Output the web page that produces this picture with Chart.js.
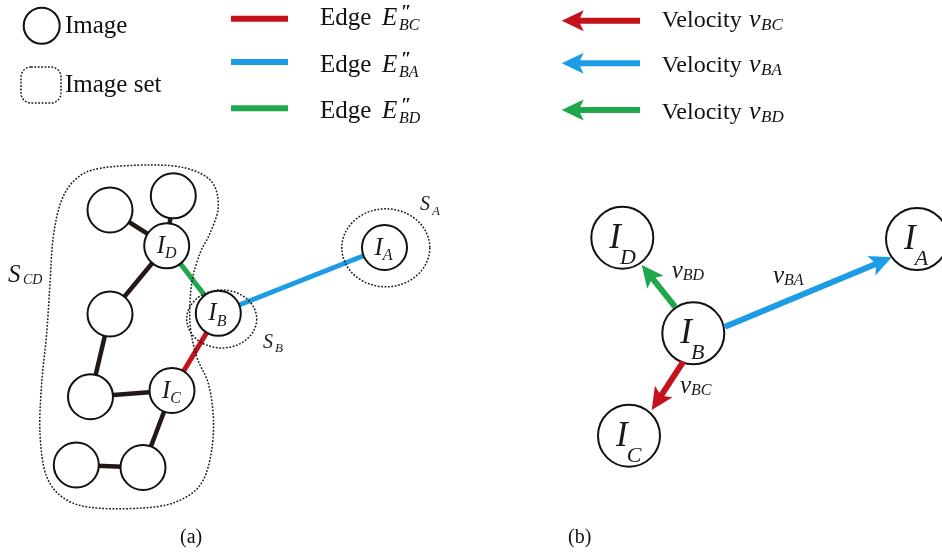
<!DOCTYPE html>
<html><head><meta charset="utf-8">
<script src="https://cdn.jsdelivr.net/npm/chart.js@4.4.1/dist/chart.umd.min.js"></script>
<style>html,body{margin:0;padding:0;background:#fff}canvas{display:block}</style>
</head><body>
<canvas id="c" width="942" height="560"></canvas>
<script>
// ---- Panel (a): image graph ----
const nodeAX = [384.5, 218.3, 172.0, 166.7, 173.3, 110.0, 110.0, 90.5, 143.0, 76.3];
const nodeAY = [247.5, 313.3, 390.5, 245.8, 195.8, 210.0, 314.0, 396.7, 467.5, 465.0];
const nodeALabel = ['A', 'B', 'C', 'D', '', '', '', '', '', ''];
// plain edges between images (node index pairs)
const plainEdges = [[5, 3], [4, 3], [3, 6], [6, 7], [7, 2], [2, 8], [8, 9]];
// highlighted edges E''_BC, E''_BA, E''_BD
const keyEdges = [[1, 2], [1, 0], [1, 3]];
const keyNames = ['BC', 'BA', 'BD'];

// image set S_CD outline
const setCDX = [100, 150, 186.7, 211.7, 218.3, 210, 200, 191.7, 190, 196.7, 208.3, 213.3, 211.7, 203.3, 186.7, 156.7, 100, 66.7, 46.7, 40, 41.7, 46.7, 50, 53.3, 61.7, 76.7];
const setCDY = [168.3, 165, 168.3, 181.7, 206.7, 233.3, 253.3, 283.3, 323.3, 356.7, 383.3, 416.7, 450, 480, 496.7, 506.7, 508.3, 500, 476.7, 433.3, 383.3, 333.3, 283.3, 236.7, 200, 178.3];
// elliptical image sets S_B and S_A: [cx, cy, rx, ry]
const setB = [221.7, 319, 35, 29];
const setA = [385.8, 247.8, 44, 39];

// ---- Panel (b): velocities ----
const nodeBX = [917.0, 693.3, 629.0, 622.3];
const nodeBY = [239.0, 333.3, 435.7, 237.7];
const nodeBLabel = ['A', 'B', 'C', 'D'];
// velocity arrows v_BC, v_BA, v_BD (start on I_B, tip near target)
const velStartX = [683.3, 725.0, 675.0];
const velStartY = [361.7, 326.7, 306.7];
const velTipX = [651.7, 891.7, 641.7];
const velTipY = [410.0, 257.3, 265.0];
const velLabelX = [680.0, 773.0, 671.7];
const velLabelY = [393.3, 283.3, 278.3];

const RED = '#C4121B', BLUE = '#1C9CE5', GREEN = '#1FA74B', INK = '#231815';
const keyColors = [RED, BLUE, GREEN];
const SERIF = '"Liberation Serif", "Times New Roman", serif';

const pt = (xs, ys, i) => ({x: xs[i], y: ys[i]});

const datasets = [];
plainEdges.forEach(([a, b]) => datasets.push({
  data: [pt(nodeAX, nodeAY, a), pt(nodeAX, nodeAY, b)],
  showLine: true, borderColor: INK, borderWidth: 4.5, pointRadius: 0, order: 2
}));
keyEdges.forEach(([a, b], k) => datasets.push({
  data: [pt(nodeAX, nodeAY, a), pt(nodeAX, nodeAY, b)],
  showLine: true, borderColor: keyColors[k], borderWidth: 5, pointRadius: 0, order: 1
}));
datasets.push({
  data: nodeAX.map((x, i) => pt(nodeAX, nodeAY, i)),
  showLine: false, pointRadius: 22.5, pointStyle: 'circle',
  pointBackgroundColor: '#fff', pointBorderColor: '#111', pointBorderWidth: 2, order: 0
});
datasets.push({
  data: nodeBX.map((x, i) => pt(nodeBX, nodeBY, i)),
  showLine: false, pointRadius: 31, pointStyle: 'circle',
  pointBackgroundColor: '#fff', pointBorderColor: '#111', pointBorderWidth: 2, order: 0
});

function write(ctx, s, x, y, size, italic) {
  ctx.font = (italic ? 'italic ' : '') + size + 'px ' + SERIF;
  ctx.fillText(s, x, y);
  return ctx.measureText(s).width;
}

function arrow(ctx, x0, y0, x1, y1, color) {
  const len = Math.hypot(x1 - x0, y1 - y0);
  const ux = (x1 - x0) / len, uy = (y1 - y0) / len;
  const nx = -uy, ny = ux;
  const headLen = 22, half = 10.5, notch = 5;
  const bx = x1 - ux * headLen, by = y1 - uy * headLen;
  const mx = x1 - ux * (headLen - notch), my = y1 - uy * (headLen - notch);
  ctx.save();
  ctx.strokeStyle = color; ctx.fillStyle = color;
  ctx.lineWidth = 6; ctx.lineCap = 'butt';
  ctx.beginPath(); ctx.moveTo(x0, y0); ctx.lineTo(mx + ux, my + uy); ctx.stroke();
  ctx.beginPath();
  ctx.moveTo(x1, y1);
  ctx.lineTo(bx + nx * half, by + ny * half);
  ctx.lineTo(mx, my);
  ctx.lineTo(bx - nx * half, by - ny * half);
  ctx.closePath(); ctx.fill();
  ctx.restore();
}

function closedCurve(ctx, P) {
  const n = P.length;
  ctx.beginPath();
  ctx.moveTo(P[0][0], P[0][1]);
  for (let i = 0; i < n; i++) {
    const p0 = P[(i - 1 + n) % n], p1 = P[i], p2 = P[(i + 1) % n], p3 = P[(i + 2) % n];
    ctx.bezierCurveTo(p1[0] + (p2[0] - p0[0]) / 6, p1[1] + (p2[1] - p0[1]) / 6,
                      p2[0] - (p3[0] - p1[0]) / 6, p2[1] - (p3[1] - p1[1]) / 6,
                      p2[0], p2[1]);
  }
  ctx.closePath();
  ctx.stroke();
}

const diagram = {
  id: 'diagram',
  afterDatasetsDraw(chart) {
    const ctx = chart.ctx;
    const X = v => chart.scales.x.getPixelForValue(v);
    const Y = v => chart.scales.y.getPixelForValue(v);
    ctx.save();

    // dotted image-set outlines
    ctx.strokeStyle = '#1a1a1a'; ctx.lineWidth = 1.5; ctx.setLineDash([1.8, 1.6]);
    closedCurve(ctx, setCDX.map((x, i) => [X(x), Y(setCDY[i])]));
    [setB, setA].forEach(s => {
      ctx.beginPath();
      ctx.ellipse(X(s[0]), Y(s[1]), s[2], s[3], 0, 0, Math.PI * 2);
      ctx.stroke();
    });
    // legend: image set
    ctx.beginPath(); ctx.roundRect(21, 67, 40, 36, 10); ctx.stroke();
    ctx.setLineDash([]);

    // legend: image
    ctx.lineWidth = 2; ctx.strokeStyle = '#111';
    ctx.beginPath(); ctx.arc(41.7, 25.7, 18, 0, Math.PI * 2); ctx.stroke();

    ctx.fillStyle = '#111'; ctx.textBaseline = 'alphabetic';
    write(ctx, 'Image', 65, 33, 25, false);
    write(ctx, 'Image set', 65, 91.5, 25, false);

    // legend: edges and velocities
    const edgeRowY = [18.7, 62, 108.3];
    const edgeTextY = [25, 71.5, 118];
    const velRowY = [20.7, 63.3, 110];
    const velTextY = [27, 72, 118.5];
    keyNames.forEach((nm, k) => {
      ctx.strokeStyle = keyColors[k]; ctx.lineWidth = 6; ctx.lineCap = 'butt';
      ctx.beginPath(); ctx.moveTo(231, edgeRowY[k]); ctx.lineTo(288, edgeRowY[k]); ctx.stroke();
      ctx.fillStyle = '#111';
      write(ctx, 'Edge', 320, edgeTextY[k], 25, false);
      write(ctx, 'E', 382, edgeTextY[k], 25, true);
      write(ctx, nm, 399, edgeTextY[k] + 5, 16, true);
      ctx.font = 'bold italic 19px ' + SERIF;
      ctx.fillText('\u2033', 401, edgeTextY[k] - 7);

      arrow(ctx, 640, velRowY[k], 561.7, velRowY[k], keyColors[k]);
      ctx.fillStyle = '#111';
      write(ctx, 'Velocity', 661.7, velTextY[k], 24, false);
      write(ctx, 'v', 749, velTextY[k], 26, true);
      write(ctx, nm, 761, velTextY[k] + 3, 17, true);
    });

    // node labels, panel (a)
    ctx.fillStyle = '#1a1a1a';
    nodeALabel.forEach((lb, i) => {
      if (!lb) return;
      const cx = X(nodeAX[i]), cy = Y(nodeAY[i]);
      const w = write(ctx, 'I', cx - 10, cy + 7, 25, true);
      write(ctx, lb, cx - 10 + w, cy + 12.5, 16, true);
    });
    // set labels
    write(ctx, 'S', 8, 282, 25, true);
    write(ctx, 'CD', 23, 284, 14, true);
    write(ctx, 'S', 420, 210, 20, true);
    write(ctx, 'A', 432, 215, 13, true);
    write(ctx, 'S', 263, 348, 20, true);
    write(ctx, 'B', 275, 352, 13, true);

    // panel (b): velocity arrows and labels
    velStartX.forEach((x0, k) => {
      arrow(ctx, X(x0), Y(velStartY[k]), X(velTipX[k]), Y(velTipY[k]), keyColors[k]);
      ctx.fillStyle = '#1a1a1a';
      const w = write(ctx, 'v', X(velLabelX[k]), Y(velLabelY[k]), 25, true);
      write(ctx, keyNames[k], X(velLabelX[k]) + w, Y(velLabelY[k]) + 2, 16, true);
    });
    nodeBLabel.forEach((lb, i) => {
      const cx = X(nodeBX[i]), cy = Y(nodeBY[i]);
      const w = write(ctx, 'I', cx - 13, cy + 10, 35, true);
      write(ctx, lb, cx - 13 + w - 1, cy + 26, 22, true);
    });

    // panel captions
    ctx.fillStyle = '#111';
    write(ctx, '(a)', 180, 543, 20, false);
    write(ctx, '(b)', 568, 543, 20, false);
    ctx.restore();
  }
};

new Chart(document.getElementById('c'), {
  type: 'scatter',
  data: {datasets},
  options: {
    responsive: false, animation: false, devicePixelRatio: 1,
    layout: {padding: 0, autoPadding: false},
    events: [],
    plugins: {legend: {display: false}, tooltip: {enabled: false}},
    datasets: {scatter: {clip: false}},
    scales: {
      x: {type: 'linear', min: 0, max: 942, display: false},
      y: {type: 'linear', min: 0, max: 560, reverse: true, display: false}
    }
  },
  plugins: [diagram]
});
</script>
</body></html>
